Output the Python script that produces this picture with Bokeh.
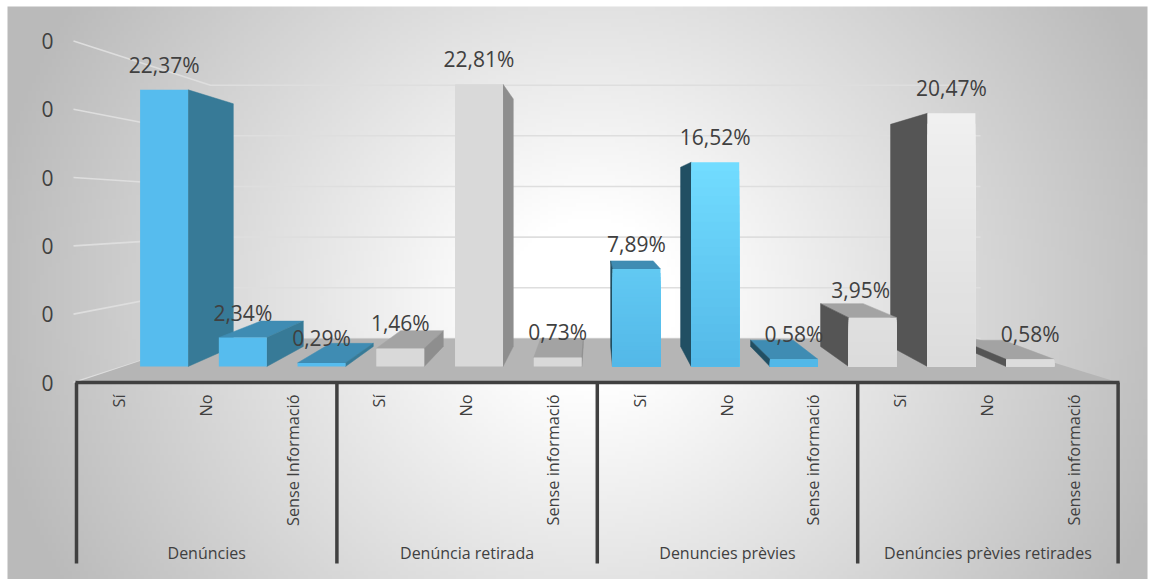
import numpy as np
from bokeh.plotting import figure
from bokeh.embed import file_html
from bokeh.resources import INLINE
from bokeh.core.properties import value

# ---- data ----
groups = ["Denúncies", "Denúncia retirada", "Denuncies prèvies", "Denúncies prèvies retirades"]
answers = [["Sí", "No", "Sense Informació"],
           ["Sí", "No", "Sense informació"],
           ["Sí", "No", "Sense informació"],
           ["Sí", "No", "Sense informació"]]
denuncies = [22.37, 2.34, 0.29]
retirada = [1.46, 22.81, 0.73]
previes = [7.89, 16.52, 0.58]
previes_retirades = [3.95, 20.47, 0.58]
y_tick_labels = ["0", "0", "0", "0", "0", "0"]

values = denuncies + retirada + previes + previes_retirades

# ---- styles per group: front bottom, front top, side, top ----
BLUE = ("#56bcee", "#56bcee", "#377a97", "#3f8cb3")
GREY = ("#d9d9d9", "#d9d9d9", "#8e8e8e", "#a3a3a3")
BLUE2 = ("#53b8e8", "#72dcff", "#214f63", "#3f8cb3")
GREY2 = ("#dcdcdc", "#f0f0f0", "#555555", "#a3a3a3")
styles = [BLUE] * 3 + [GREY] * 3 + [BLUE2] * 3 + [GREY2] * 3
GRAD_MAX = [1, 1, 1, 1, 1, 1, 16.52, 16.52, 16.52, 20.47, 20.47, 20.47]

# ---- layout: page pixels <-> data units ----
X0, PITCH = 163.6, 78.73     # page x of slot 0, px per slot
Y0, SCALE = 366.0, 12.37     # page y of value 0, px per percent
LEFT, TOP, W, H = 0, 0, 1155, 579
BG_L, BG_T, BG_R, BG_B = 7, 6, 1147, 579


def X(px):
    return (px - X0) / PITCH


def Y(py):
    return (Y0 - py) / SCALE


HALF = 24.0 / PITCH
VX, VY = X(595), Y(203)      # vanishing point of the bar depth
KX, KY = 0.111, 0.1227       # depth fraction


def bx(x):
    return x + KX * (VX - x)


def by(y):
    return y + KY * (VY - y)


p = figure(width=W, height=H, x_range=(X(LEFT), X(LEFT + W)), y_range=(Y(TOP + H), Y(TOP)),
           output_backend="svg", toolbar_location=None, min_border=0,
           outline_line_color=None, x_axis_type="linear")
p.axis.visible = False
p.grid.visible = False
p.background_fill_color = "#ffffff"
p.border_fill_color = "#ffffff"

# background: path gradient with a white core
bw, bh = BG_R - BG_L, BG_B - BG_T
ny, nx = bh // 4, bw // 4
yy, xx = np.mgrid[0:ny, 0:nx]
px_ = BG_L + (xx + .5) * bw / nx
py_ = BG_T + bh - (yy + .5) * bh / ny
t = np.sqrt(((px_ - 590) / 580) ** 2 + ((py_ - 300) / 550) ** 2)
g = np.clip(255 - 65 * np.clip((t - .15) / .85, 0, 1.05), 0, 255).astype(np.uint32)
img = (255 << 24) | (g << 16) | (g << 8) | g
p.image_rgba(image=[img.astype(np.uint32)], x=X(BG_L), y=Y(BG_B), dw=bw / PITCH, dh=bh / SCALE)

# walls: gridlines
GRID = "#dedede"
left_edge = 73.0
wall_left = 210.0
wall_right = 980.0
tick_py = [382, 313.6, 245.4, 177, 108.8, 40.5]
back_py = [338, 287.3, 236.6, 186, 135.3, 84.7]
for a, b in zip(tick_py, back_py):
    p.line([X(left_edge), X(wall_left), X(wall_right)], [Y(a), Y(b), Y(b)],
           line_color=GRID, line_width=1.6)

# floor
p.patch([X(75), X(1118), X(975), X(207)], [Y(382), Y(382), Y(338), Y(338)],
        fill_color="#b5b5b5", line_color=None)


def face(xs, ys, color):
    p.patch(xs, ys, fill_color=color, line_color=color, line_width=0.5)


def draw_bar(i):
    v = values[i]
    c0, c1, side, top = styles[i]
    l, r = i - HALF, i + HALF
    # top face
    if v < VY:
        face([l, r, bx(r), bx(l)], [v, v, by(v), by(v)], top)
    # side face
    e = r if r < VX else l
    if not (l < VX < r):
        face([e, bx(e), bx(e), e], [0, by(0), by(v), v], side)
    # front face (banded gradient)
    if c0 == c1:
        p.quad(left=l, right=r, bottom=0, top=v, fill_color=c0, line_color=None)
    else:
        a = np.array([int(c0[k:k + 2], 16) for k in (1, 3, 5)], float)
        b = np.array([int(c1[k:k + 2], 16) for k in (1, 3, 5)], float)
        n = 24
        for j in range(n, 0, -1):
            f = j / n
            col = a + (b - a) * f * v / GRAD_MAX[i]
            p.quad(left=l, right=r, bottom=0, top=v * f,
                   fill_color="#%02x%02x%02x" % tuple(int(c) for c in col), line_color=None)


for i in list(range(11, 5, -1)) + list(range(0, 6)):
    draw_bar(i)

# category axis
AXIS = "#404040"
p.line([X(75), X(1119)], [Y(382), Y(382)], line_color=AXIS, line_width=3.5)
sep = [76, 336.4, 596.8, 857.2, 1117.6]
for s in sep:
    p.line([X(s), X(s)], [Y(382), Y(563)], line_color=AXIS, line_width=3.5)

FONT = value("Open Sans")
TXT = "#404040"

# y tick labels
p.text(x=[X(47)] * 6, y=[Y(a) for a in tick_py], text=y_tick_labels, text_font=FONT,
       text_font_size="21px", text_color=TXT, text_align="center", text_baseline="middle")

# answers (rotated)
names = [a for g_ in answers for a in g_]
p.text(x=[X(76 + 86.8 * (i + .5) - 1) for i in range(12)], y=[Y(394)] * 12, text=names,
       angle=np.pi / 2, text_font=FONT, text_font_size="16.3px", text_color=TXT,
       text_align="right", text_baseline="middle")

# groups
p.text(x=[X(76 + 260.4 * (i + .5)) for i in range(4)], y=[Y(552)] * 4, text=groups,
       text_font=FONT, text_font_size="16px", text_color=TXT,
       text_align="center", text_baseline="middle")

# value labels
labels = [("%.2f%%" % v).replace(".", ",") for v in values]
dx = [0.0] * 12
dy = [-25.0] * 12
dx[9] = -12.0
dy[9] = -28.0
p.text(x=list(range(12)), y=values, text=labels, x_offset=dx, y_offset=dy, text_font=FONT,
       text_font_size="21px", text_color=TXT, text_align="center", text_baseline="middle")

open("out.html", "w").write(file_html(p, INLINE))
